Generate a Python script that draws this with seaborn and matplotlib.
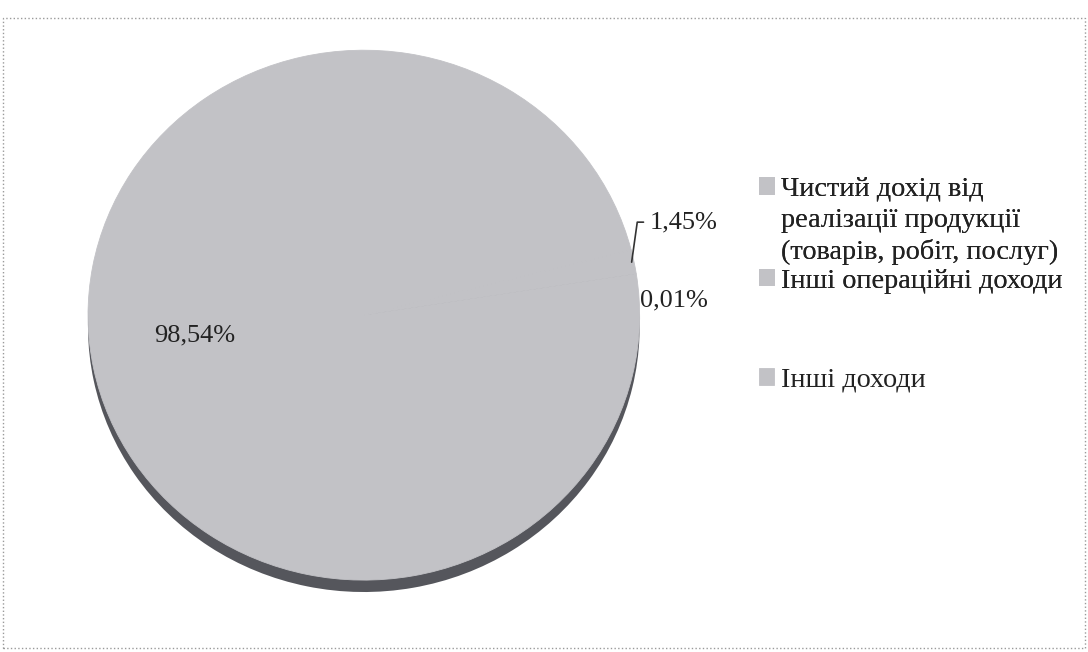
import matplotlib
matplotlib.use("Agg")
import matplotlib.pyplot as plt
import seaborn as sns
from matplotlib.patches import Rectangle

sns.set_theme(style="white")
plt.rcParams['font.family'] = ['Liberation Serif', 'DejaVu Serif']

# data
labels = ['Чистий дохід від\nреалізації продукції\n(товарів, робіт, послуг)',
          'Інші операційні доходи',
          'Інші доходи']
shares = [98.54, 1.45, 0.01]
share_text = ['98,54%', '1,45%', '0,01%']
colors = ['#c2c2c6', '#c2c2c6', '#c2c2c6']

fig = plt.figure(figsize=(10.88, 6.52), dpi=100)

# dotted chart frame
fig.patches.append(Rectangle((0.003, 0.006), 0.994, 0.966, transform=fig.transFigure,
                             fill=False, edgecolor='#9a9a9a', linestyle=':', linewidth=1.0))

ax = fig.add_axes([0.0809, 0.092, 0.507, 0.831])
start = 14.25

# 3d-ish side of the pie
ax.pie(shares, colors=['#55565c'] * 3, startangle=start, center=(0, -0.045),
       wedgeprops=dict(linewidth=0))
wedges, _ = ax.pie(shares, colors=colors, startangle=start,
                   wedgeprops=dict(linewidth=0.6, edgecolor='#c2c2c6'))
ax.set_aspect('auto')
ax.set_xlim(-1.0, 1.0)
ax.set_ylim(-1.045, 1.0)
ax.axis('off')

fs = 19
ax.text(-0.612, -0.075, share_text[0], fontsize=fs, color='#222222', ha='center', va='center')
ax.annotate(share_text[1], xy=(0.971, 0.20), xytext=(1.036, 0.351),
            fontsize=fs, color='#222222', ha='left', va='center',
            arrowprops=dict(arrowstyle='-', color='#333333', lw=1.2,
                            connectionstyle='angle,angleA=0,angleB=82',
                            shrinkA=2, shrinkB=0))
ax.text(1.0, 0.057, share_text[2], fontsize=fs, color='#222222', ha='left', va='center')

# legend (split in two like the original spacing)
lfs = 20.3
leg1 = fig.legend(wedges[:2], labels[:2], loc='upper left', bbox_to_anchor=(0.674, 0.768),
                  frameon=False, fontsize=lfs, handlelength=0.55, handleheight=0.55,
                  handletextpad=0.25, labelspacing=0.12, labelcolor='#222222')
for t in leg1.get_texts():
    t.set_linespacing(1.32)
# put the marker next to the first line of a wrapped label
for col in leg1._legend_handle_box.get_children():
    for item in col.get_children():
        item.align = 'top'
fig.legend(wedges[2:], labels[2:], loc='upper left', bbox_to_anchor=(0.674, 0.476),
           frameon=False, fontsize=lfs, handlelength=0.55, handleheight=0.55,
           handletextpad=0.25, labelcolor='#222222')
fig.add_artist(leg1)

fig.savefig('out.png', dpi=100)
